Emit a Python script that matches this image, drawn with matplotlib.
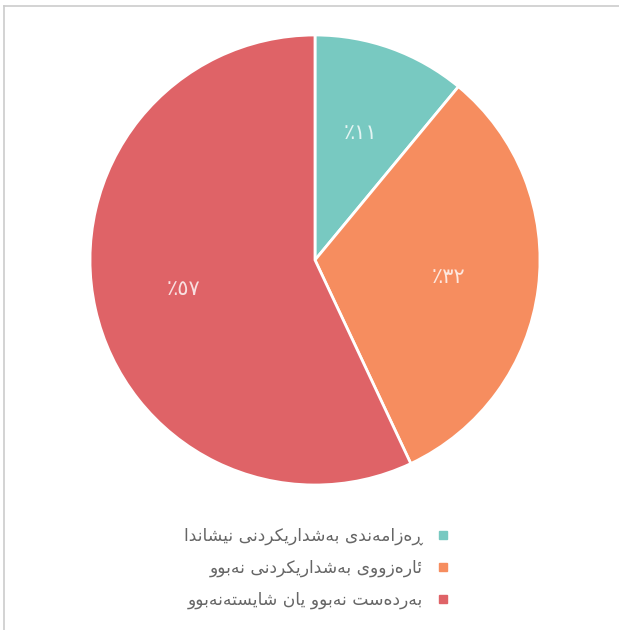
import matplotlib
matplotlib.use("Agg")
import numpy as np
import matplotlib.pyplot as plt
from matplotlib.lines import Line2D

# ---------------------------- data ----------------------------
labels = [
    "ڕەزامەندی بەشداریکردنی نیشاندا",
    "ئارەزووی بەشداریکردنی نەبوو",
    "بەردەست نەبوو یان شایستەنەبوو",
]
values = [11, 32, 57]
colors = ["#78c9c1", "#f68d5f", "#df6367"]

# ------------- tiny Arabic-script shaper (matplotlib has none) -------------
DUAL = {
    "ب": "\ufe8f\ufe90\ufe91\ufe92", "ت": "\ufe95\ufe96\ufe97\ufe98",
    "س": "\ufeb1\ufeb2\ufeb3\ufeb4", "ش": "\ufeb5\ufeb6\ufeb7\ufeb8",
    "م": "\ufee1\ufee2\ufee3\ufee4", "ن": "\ufee5\ufee6\ufee7\ufee8",
    "ی": "\ufbfc\ufbfd\ufbfe\ufbff", "ک": "\ufb8e\ufb8f\ufb90\ufb91",
    "ئ": "\ufe89\ufe8a\ufe8b\ufe8c",
}
RIGHT = {
    "ا": "\ufe8d\ufe8e", "د": "\ufea9\ufeaa", "ر": "\ufead\ufeae",
    "ز": "\ufeaf\ufeb0", "و": "\ufeed\ufeee", "ڕ": "\u0695\u0695",
    "ە": "\u06d5\ufeea",
}


def shape(text):
    out = []
    for i, ch in enumerate(text):
        prev = text[i - 1] if i > 0 else ""
        nxt = text[i + 1] if i + 1 < len(text) else ""
        joins_prev = prev in DUAL
        if ch in DUAL:
            joins_next = nxt in DUAL or nxt in RIGHT
            f = DUAL[ch]
            idx = {(False, False): 0, (True, False): 1,
                   (False, True): 2, (True, True): 3}[(joins_prev, joins_next)]
            out.append(f[idx])
        elif ch in RIGHT:
            out.append(RIGHT[ch][1 if joins_prev else 0])
        else:
            out.append(ch)
    return "".join(out)[::-1]


def pct(v):
    return "٪" + str(v).translate(str.maketrans("0123456789", "٠١٢٣٤٥٦٧٨٩"))


plt.rcParams["font.family"] = ["DejaVu Sans"]

W, H = 619, 630
fig = plt.figure(figsize=(W / 100, H / 100), dpi=100)
fig.patch.set_facecolor("white")

# pie centred at (315, 260) px, radius 225 px
cx, cy, r = 315, 260, 225
ax = fig.add_axes([(cx - r) / W, (H - cy - r) / H, 2 * r / W, 2 * r / H])
wedges, _ = ax.pie(values, colors=colors, startangle=90, counterclock=False,
                   wedgeprops=dict(edgecolor="white", linewidth=2))
for w, v in zip(wedges, values):
    ang = np.deg2rad((w.theta1 + w.theta2) / 2)
    ax.text(0.6 * np.cos(ang), 0.6 * np.sin(ang), pct(v), ha="center",
            va="center", color="white", alpha=0.8, fontsize=15)
ax.set_xlim(-1, 1)
ax.set_ylim(-1, 1)
ax.axis("off")

handles = [Line2D([], [], marker="s", linestyle="none", markersize=6,
                  color=c) for c in colors]
fig.legend(handles, [shape(l) for l in labels], loc="center",
           bbox_to_anchor=(322 / W, 1 - 568 / H), markerfirst=False,
           frameon=False, fontsize=12.3, labelspacing=0.8, handletextpad=0.2,
           labelcolor="#666666")

# thin frame on left and top
fig.add_artist(Line2D([3.5 / W, 3.5 / W], [0, 1 - 5.5 / H], color="#cccccc", lw=1.2))
fig.add_artist(Line2D([3.5 / W, 1], [1 - 5.5 / H, 1 - 5.5 / H], color="#cccccc", lw=1.2))

fig.savefig("out.png", dpi=100)
